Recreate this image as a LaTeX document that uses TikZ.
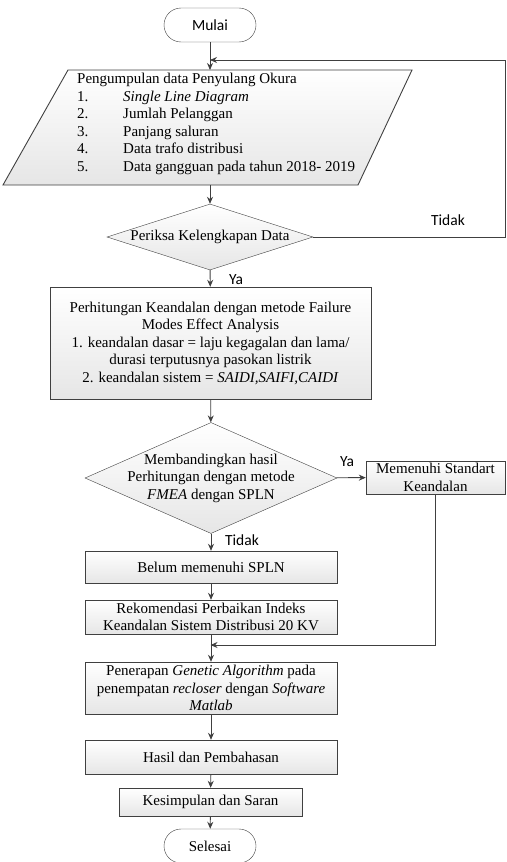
\documentclass[tikz,border=0pt]{standalone}
\usepackage{fontspec}
\setmainfont{Liberation Serif}
\newfontfamily\labelfont{Carlito}
\usetikzlibrary{shapes.geometric,shapes.misc,arrows.meta}
\definecolor{linegray}{HTML}{404040}
\definecolor{boxgray}{HTML}{E6E6E6}
\tikzset{
  terminal/.style={rounded rectangle,draw=linegray,fill=white,minimum width=92pt,minimum height=34pt,inner sep=0pt},
  process/.style={rectangle,draw=linegray,top color=white,bottom color=boxgray,align=center,inner sep=0pt},
  decision/.style={diamond,draw=linegray,top color=white,bottom color=boxgray,align=center},
  flow/.style={-{Stealth[length=7pt,width=6pt]},linegray,line width=0.9pt},
  link/.style={linegray,line width=0.9pt},
  lbl/.style={font=\labelfont\fontsize{15.5}{18}\selectfont}
}

\begin{document}
\begin{tikzpicture}[x=1pt,y=-1pt,
  every node/.style={font=\fontsize{15}{17.5}\selectfont}]
\useasboundingbox (0,0) rectangle (506,862);

% Start
\node[terminal,lbl] (mulai) at (210,25) {Mulai};

% Input data, parallelogram
\path[link,draw=linegray,top color=white,bottom color=boxgray]
  (68,70) coordinate (dTL) -- (412,70) coordinate (dTR) --
  (358,185) coordinate (dBR) -- (3,185) coordinate (dBL) -- cycle;
\coordinate (dTop) at (210,70);
\coordinate (dBot) at (210,185);
\node[align=left,anchor=west,inner sep=0pt] (datatext) at (77,124)
  {Pengumpulan data Penyulang Okura\\
   \makebox[46pt][l]{1.}\textit{Single Line Diagram}\\
   \makebox[46pt][l]{2.}Jumlah Pelanggan\\
   \makebox[46pt][l]{3.}Panjang saluran\\
   \makebox[46pt][l]{4.}Data trafo distribusi\\
   \makebox[46pt][l]{5.}Data gangguan pada tahun 2018- 2019};

% Checks and steps
\node[decision,aspect=3.12,inner sep=-2pt,minimum width=206pt,minimum height=66pt] (periksa) at (210,237) {Periksa Kelengkapan Data};
\node[process,minimum width=321pt,minimum height=112pt] (hitung) at (210.5,343)
  {Perhitungan Keandalan dengan metode Failure\\
   Modes Effect Analysis\\
   1. keandalan dasar = laju kegagalan dan lama/\\
   durasi terputusnya pasokan listrik\\
   2. keandalan sistem = \textit{SAIDI,SAIFI,CAIDI}};
\node[decision,aspect=2.27,inner xsep=-12pt,inner ysep=-9pt,minimum width=252pt,minimum height=111pt] (banding) at (211,478)
  {Membandingkan hasil\\ Perhitungan dengan metode\\ \textit{FMEA} dengan SPLN};
\node[process,minimum width=139pt,minimum height=33pt] (memenuhi) at (435.5,477.5)
  {Memenuhi Standart\\ Keandalan};
\node[process,minimum width=252pt,minimum height=32pt] (belum) at (211,567) {Belum memenuhi SPLN};
\node[process,minimum width=252pt,minimum height=34pt] (rekom) at (211,617)
  {Rekomendasi Perbaikan Indeks\\ Keandalan Sistem Distribusi 20 KV};
\node[process,minimum width=252pt,minimum height=52pt] (terap) at (211,688)
  {Penerapan \textit{Genetic Algorithm} pada\\
   penempatan \textit{recloser} dengan \textit{Software}\\ \textit{Matlab}};
\node[process,minimum width=252pt,minimum height=34pt] (hasil) at (211,757) {Hasil dan Pembahasan};
\node[process,minimum width=183pt,minimum height=28pt] (simpul) at (210.5,802) {Kesimpulan dan Saran};

% End
\node[terminal] (selesai) at (210,846) {Selesai};

% Labels
\node[lbl] (tidakA) at (448,220) {Tidak};
\node[lbl] (yaA) at (236,280) {Ya};
\node[lbl] (yaB) at (347,462) {Ya};
\node[lbl] (tidakB) at (242,540) {Tidak};

% Main flow
\draw[flow] (mulai) -- (dTop);
\draw[flow] (dBot) -- (periksa.north);
\draw[flow] (periksa) -- (hitung);
\draw[flow] (hitung) -- (banding);
\draw[flow] (banding) -- (memenuhi);
\draw[flow] (banding) -- (belum);
\draw[flow] (belum) -- (rekom);
\draw[flow] (rekom) -- (terap);
\draw[flow] (terap) -- (hasil);
\draw[flow] (hasil) -- (simpul);
\draw[flow] (simpul) -- (selesai);

% Loop back when data is incomplete
\coordinate (loopR) at (505,60);
\draw[flow] (periksa.east) -| (loopR) -- (mulai.south |- loopR);

% Join from standard box
\coordinate (join) at (210.5,645);
\draw[flow] (memenuhi.south) |- (join);

\end{tikzpicture}
\end{document}
